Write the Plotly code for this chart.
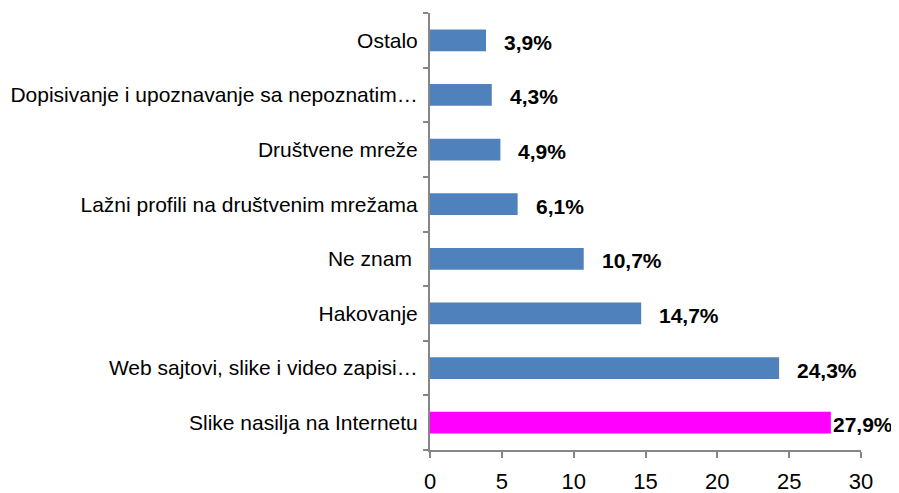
import plotly.graph_objects as go

categories = [
    "Slike nasilja na Internetu",
    "Web sajtovi, slike i video zapisi…",
    "Hakovanje",
    "Ne znam ",
    "Lažni profili na društvenim mrežama",
    "Društvene mreže",
    "Dopisivanje i upoznavanje sa nepoznatim…",
    "Ostalo",
]
values = [27.9, 24.3, 14.7, 10.7, 6.1, 4.9, 4.3, 3.9]
labels = ["27,9%", "24,3%", "14,7%", "10,7%", "6,1%", "4,9%", "4,3%", "3,9%"]
highlight = "Slike nasilja na Internetu"

BLUE = "#4F81BD"
MAGENTA = "#FF00FF"
colors = [MAGENTA if c == highlight else BLUE for c in categories]

fig = go.Figure()
fig.add_trace(go.Bar(
    x=values, y=categories, orientation="h",
    marker=dict(color=colors, line=dict(width=0)),
    hoverinfo="skip",
))

for c, v, t in zip(categories, values, labels):
    fig.add_annotation(
        x=v, y=c, text="<b>" + t + "</b>", showarrow=False,
        xanchor="left", yanchor="middle",
        xshift=0 if c == highlight else 16, yshift=-2,
        font=dict(family="Liberation Sans, Arial, sans-serif", size=21, color="#000000"),
    )

# page body has an 8px margin, so the figure is sized to fit inside the window
fig.update_layout(
    width=891, height=485,
    margin=dict(l=422, r=38, t=5, b=43, autoexpand=False),
    paper_bgcolor="white", plot_bgcolor="white",
    bargap=0.6,
    showlegend=False,
    font=dict(family="Liberation Sans, Arial, sans-serif", size=21, color="#000000"),
)
fig.update_xaxes(
    range=[0, 30], dtick=5, tick0=0,
    showgrid=False, zeroline=False, automargin=False,
    showline=True, linecolor="#868686", linewidth=2,
    ticks="outside", ticklen=6, tickcolor="#868686", tickwidth=2,
    ticklabelstandoff=5,
    tickfont=dict(size=22, color="#000000"),
)
fig.update_yaxes(
    type="category", categoryorder="array", categoryarray=categories,
    showgrid=False, zeroline=False, automargin=False,
    showline=True, linecolor="#868686", linewidth=2,
    ticks="outside", ticklen=5, tickcolor="#868686", tickwidth=2,
    tickson="boundaries",
    ticklabelstandoff=6,
    tickfont=dict(size=21, color="#000000"),
)

fig.write_html("out.html")
